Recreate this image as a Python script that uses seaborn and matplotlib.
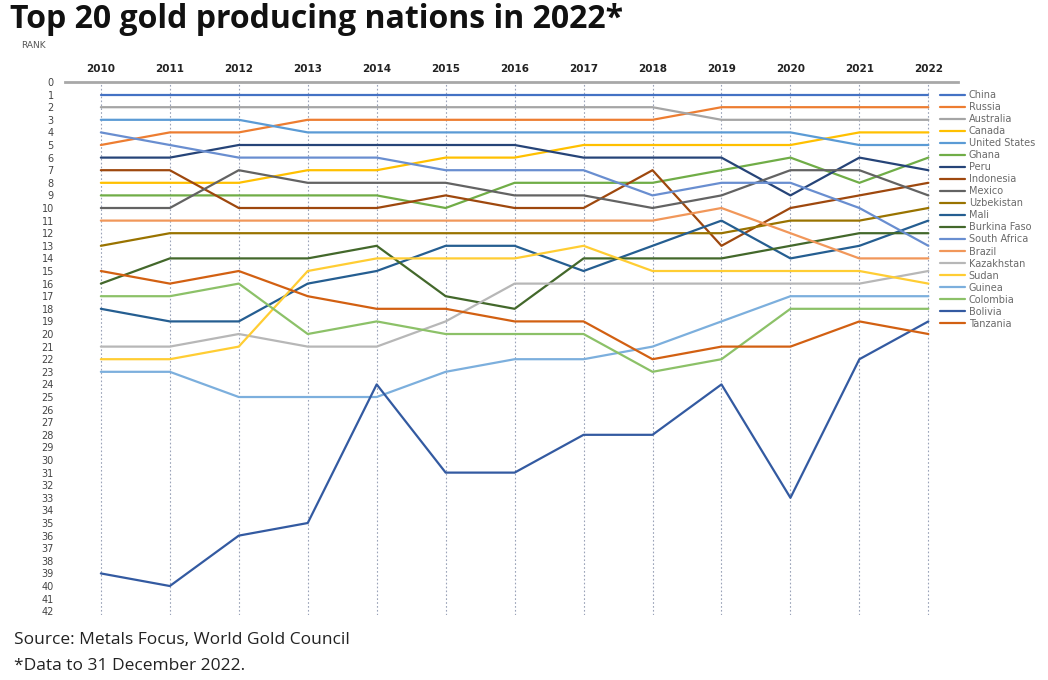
import matplotlib
matplotlib.use("Agg")
import matplotlib.pyplot as plt
import seaborn as sns
import pandas as pd

years = [2010, 2011, 2012, 2013, 2014, 2015, 2016, 2017, 2018, 2019, 2020, 2021, 2022]

countries = ["China", "Russia", "Australia", "Canada", "United States", "Ghana", "Peru",
             "Indonesia", "Mexico", "Uzbekistan", "Mali", "Burkina Faso", "South Africa",
             "Brazil", "Kazakhstan", "Sudan", "Guinea", "Colombia", "Bolivia", "Tanzania"]

china        = [1, 1, 1, 1, 1, 1, 1, 1, 1, 1, 1, 1, 1]
russia       = [5, 4, 4, 3, 3, 3, 3, 3, 3, 2, 2, 2, 2]
australia    = [2, 2, 2, 2, 2, 2, 2, 2, 2, 3, 3, 3, 3]
canada       = [8, 8, 8, 7, 7, 6, 6, 5, 5, 5, 5, 4, 4]
united_states = [3, 3, 3, 4, 4, 4, 4, 4, 4, 4, 4, 5, 5]
ghana        = [9, 9, 9, 9, 9, 10, 8, 8, 8, 7, 6, 8, 6]
peru         = [6, 6, 5, 5, 5, 5, 5, 6, 6, 6, 9, 6, 7]
indonesia    = [7, 7, 10, 10, 10, 9, 10, 10, 7, 13, 10, 9, 8]
mexico       = [10, 10, 7, 8, 8, 8, 9, 9, 10, 9, 7, 7, 9]
uzbekistan   = [13, 12, 12, 12, 12, 12, 12, 12, 12, 12, 11, 11, 10]
mali         = [18, 19, 19, 16, 15, 13, 13, 15, 13, 11, 14, 13, 11]
burkina_faso = [16, 14, 14, 14, 13, 17, 18, 14, 14, 14, 13, 12, 12]
south_africa = [4, 5, 6, 6, 6, 7, 7, 7, 9, 8, 8, 10, 13]
brazil       = [11, 11, 11, 11, 11, 11, 11, 11, 11, 10, 12, 14, 14]
kazakhstan   = [21, 21, 20, 21, 21, 19, 16, 16, 16, 16, 16, 16, 15]
sudan        = [22, 22, 21, 15, 14, 14, 14, 13, 15, 15, 15, 15, 16]
guinea       = [23, 23, 25, 25, 25, 23, 22, 22, 21, 19, 17, 17, 17]
colombia     = [17, 17, 16, 20, 19, 20, 20, 20, 23, 22, 18, 18, 18]
bolivia      = [39, 40, 36, 35, 24, 31, 31, 28, 28, 24, 33, 22, 19]
tanzania     = [15, 16, 15, 17, 18, 18, 19, 19, 22, 21, 21, 19, 20]

series = [china, russia, australia, canada, united_states, ghana, peru, indonesia,
          mexico, uzbekistan, mali, burkina_faso, south_africa, brazil, kazakhstan,
          sudan, guinea, colombia, bolivia, tanzania]

colors = ["#4472C4", "#ED7D31", "#A5A5A5", "#FFC000", "#5B9BD5", "#70AD47", "#264478",
          "#9E480E", "#636363", "#997300", "#255E91", "#43682B", "#698ED0", "#F1975A",
          "#B7B7B7", "#FFCD33", "#7CAFDD", "#8CC168", "#335AA1", "#D26012"]

rank_ticks = list(range(0, 43))

rows = []
for name, ranks in zip(countries, series):
    for yr, rk in zip(years, ranks):
        rows.append({"Year": yr, "Rank": rk, "Country": name})
df = pd.DataFrame(rows)

sns.set_theme(style="white")
plt.rcParams["font.family"] = ["DejaVu Sans"]

fig = plt.figure(figsize=(10.48, 6.8), dpi=100)
ax = fig.add_axes([65 / 1048, 1 - 615 / 680, (958 - 65) / 1048, (615 - 82) / 680])

sns.lineplot(data=df, x="Year", y="Rank", hue="Country", hue_order=countries,
             palette=dict(zip(countries, colors)), linewidth=1.6, ax=ax, legend=True)

ax.set_ylim(42.3, 0)
ax.set_xlim(2009.48, 2022.43)
ax.xaxis.tick_top()
ax.set_xticks(years)
ax.set_xticklabels([str(y) for y in years], fontweight="bold", fontsize=7.5, color="#222222")
ax.set_yticks(rank_ticks)
ax.set_yticklabels([str(r) for r in rank_ticks], fontsize=7, color="#444444")
ax.tick_params(axis="y", length=0, pad=8)
ax.tick_params(axis="x", length=0, pad=6)
ax.grid(axis="x", linestyle=(0, (1.5, 2)), color="#9aa3b8", linewidth=0.8)
ax.grid(axis="y", visible=False)
for s in ["left", "right", "bottom"]:
    ax.spines[s].set_visible(False)
ax.spines["top"].set_color("#a8a8a8")
ax.spines["top"].set_linewidth(2)
ax.set_xlabel("")
ax.set_ylabel("")

handles, labels = ax.get_legend_handles_labels()
ax.get_legend().remove()
leg = fig.legend(handles, labels, loc="upper left",
                 bbox_to_anchor=(940 / 1048, 1 - 90 / 680),
                 frameon=False, fontsize=7, labelspacing=0.21,
                 handlelength=2.6, handletextpad=0.35, borderpad=0, borderaxespad=0)
for t in leg.get_texts():
    t.set_color("#6a6a6a")

fig.text(10 / 1048, 1 - 20 / 680, "Top 20 gold producing nations in 2022*",
         fontsize=23, fontweight="bold", family=["Open Sans", "DejaVu Sans"],
         color="#111111", va="center", ha="left")
fig.text(21 / 1048, 1 - 46 / 680, "RANK", fontsize=6.5, color="#555555",
         va="center", ha="left")
fig.text(14 / 1048, 1 - 640 / 680, "Source: Metals Focus, World Gold Council",
         fontsize=12.5, family=["Open Sans", "DejaVu Sans"], color="#222222",
         va="center", ha="left")
fig.text(14 / 1048, 1 - 666 / 680, "*Data to 31 December 2022.",
         fontsize=12.5, family=["Open Sans", "DejaVu Sans"], color="#222222",
         va="center", ha="left")

fig.savefig("out.png", dpi=100)
